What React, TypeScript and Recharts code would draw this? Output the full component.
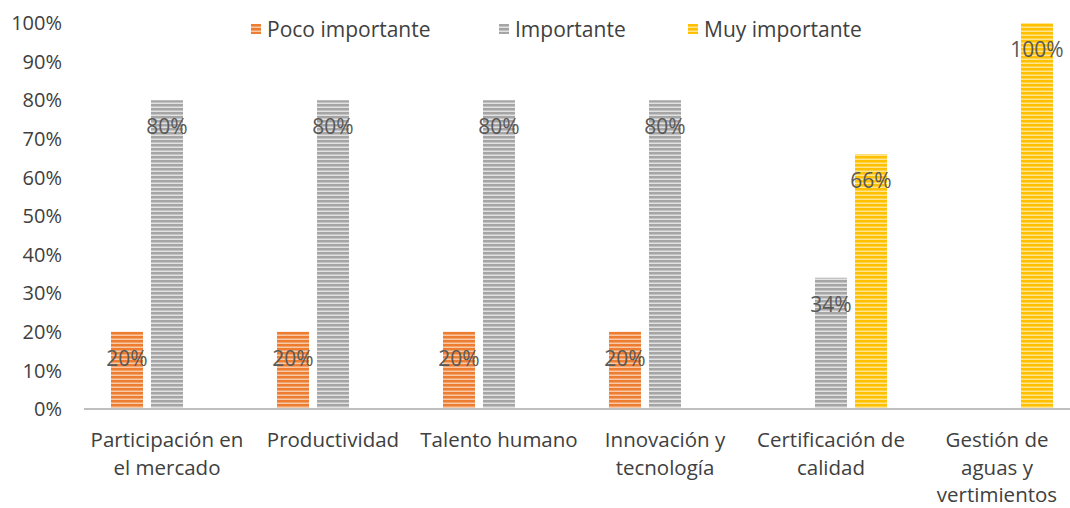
import React from 'react';
import { BarChart, Bar, XAxis, YAxis, LabelList } from 'recharts';

const categoryLines: string[][] = [
  ['Participación en', 'el mercado'],
  ['Productividad'],
  ['Talento humano'],
  ['Innovación y', 'tecnología'],
  ['Certificación de', 'calidad'],
  ['Gestión de', 'aguas y', 'vertimientos'],
];
const categories = categoryLines.map((l) => l.join(' '));
const pocoImportante: (number | null)[] = [0.2, 0.2, 0.2, 0.2, null, null];
const importante: (number | null)[] = [0.8, 0.8, 0.8, 0.8, 0.34, null];
const muyImportante: (number | null)[] = [null, null, null, null, 0.66, 1];
const yTicks = [0, 0.1, 0.2, 0.3, 0.4, 0.5, 0.6, 0.7, 0.8, 0.9, 1];
const seriesNames = ['Poco importante', 'Importante', 'Muy importante'];
const seriesKeys = ['poco', 'imp', 'muy'];
const seriesDark = ['#ED7D31', '#A5A5A5', '#FFC000'];
const seriesLight = ['#F9C9A6', '#E2E2E2', '#FFE58F'];
const legendLeft = [251, 499, 688];

const data = categories.map((c, i) => ({
  name: c,
  poco: pocoImportante[i],
  imp: importante[i],
  muy: muyImportante[i],
}));

const FONT = '"Open Sans", sans-serif';

const pct = (v: any) => (v == null ? '' : `${Math.round(v * 100)}%`);

const XTick = (props: any) => {
  const { x, y, payload } = props;
  const lines = categoryLines[payload.index] || [payload.value];
  return (
    <text x={x} y={y} textAnchor="middle" fill="#404040" fontSize={20.5} fontFamily={FONT}>
      {lines.map((l, i) => (
        <tspan key={i} x={x} dy={i === 0 ? 38 : 27.5}>
          {l}
        </tspan>
      ))}
    </text>
  );
};

export default function App() {
  return (
    <div style={{ position: 'relative', width: 1070, height: 508, overflow: 'hidden', background: '#fff' }}>
      <style>{`body{margin:0;overflow:hidden}`}</style>
      <svg width={0} height={0} style={{ position: 'absolute' }}>
        <defs>
          {seriesKeys.map((k, i) => (
            <pattern key={k} id={`pat-${k}`} width={4} height={4} patternUnits="userSpaceOnUse">
              <rect width={4} height={4} fill={seriesLight[i]} />
              <rect width={4} height={2.5} fill={seriesDark[i]} />
            </pattern>
          ))}
        </defs>
      </svg>
      <BarChart
        width={1080}
        height={508}
        data={data}
        margin={{ top: 23, right: 0, bottom: 0, left: 0 }}
        barSize={32}
        barGap={8}
      >
        <defs>
          {seriesKeys.map((k, i) => (
            <pattern key={k} id={`bpat-${k}`} width={4} height={4} patternUnits="userSpaceOnUse">
              <rect width={4} height={4} fill={seriesLight[i]} />
              <rect width={4} height={2.5} fill={seriesDark[i]} />
            </pattern>
          ))}
        </defs>
        <XAxis
          dataKey="name"
          height={99}
          interval={0}
          tickLine={false}
          tickSize={0}
          tickMargin={0}
          axisLine={{ stroke: '#BFBFBF', strokeWidth: 2 }}
          tick={<XTick />}
        />
        <YAxis
          width={84}
          domain={[0, 1]}
          ticks={yTicks}
          interval={0}
          axisLine={false}
          tickLine={false}
          tickSize={0}
          tickMargin={22}
          tickFormatter={pct}
          tick={{ fill: '#404040', fontSize: 20, fontFamily: FONT }}
        />
        {seriesKeys.map((k, i) => (
          <Bar key={k} dataKey={k} name={seriesNames[i]} fill={`url(#bpat-${k})`} isAnimationActive={false}>
            <LabelList
              dataKey={k}
              position="insideTop"
              offset={19}
              formatter={pct}
              fill="#595959"
              fontSize={21}
              fontFamily={FONT}
            />
          </Bar>
        ))}
      </BarChart>
      {seriesNames.map((n, i) => (
        <div
          key={n}
          style={{
            position: 'absolute',
            left: legendLeft[i],
            top: 15,
            height: 28,
            display: 'flex',
            alignItems: 'center',
            fontFamily: FONT,
            fontSize: 21,
            color: '#404040',
            whiteSpace: 'nowrap',
          }}
        >
          <svg width={10} height={10} style={{ marginRight: 6 }}>
            <rect width={10} height={10} fill={`url(#pat-${seriesKeys[i]})`} />
          </svg>
          <span>{n}</span>
        </div>
      ))}
    </div>
  );
}
